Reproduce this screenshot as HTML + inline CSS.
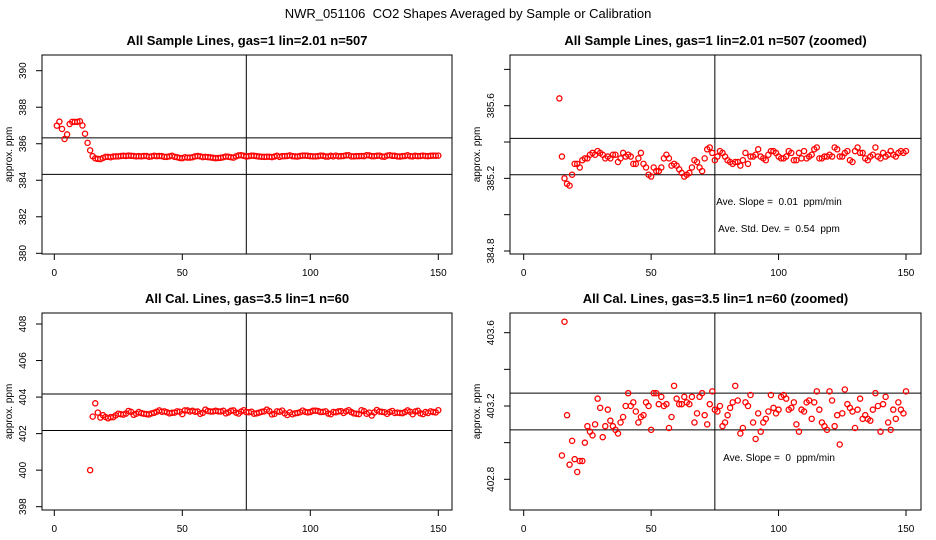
<!DOCTYPE html>
<html><head><meta charset="utf-8"><style>
html,body{margin:0;padding:0;background:#fff;width:936px;height:540px;overflow:hidden;}
svg{display:block;font-family:"Liberation Sans",sans-serif;}
svg text{white-space:pre;}
</style></head><body>
<svg id="c" width="936" height="540" viewBox="0 0 936 540">
<text x="468" y="18" text-anchor="middle" font-size="13">NWR_051106  CO2 Shapes Averaged by Sample or Calibration</text>
</svg>
<script>
const sampleX = [];
for (let i = 1; i <= 150; i++) sampleX.push(i);
const sampleValues = [386.99,387.21,386.81,386.26,386.51,387.08,387.2,387.2,387.2,387.23,387.0,386.55,386.05,
385.64,385.32,385.20,385.17,385.16,385.22,385.28,385.28,385.26,385.30,385.31,385.31,385.33,385.34,385.33,385.35,
385.34,385.33,385.31,385.32,385.31,385.33,385.33,385.29,385.31,385.34,385.32,385.33,385.32,385.28,385.28,385.31,
385.34,385.28,385.26,385.22,385.21,385.26,385.24,385.24,385.26,385.31,385.33,385.31,385.27,385.28,385.27,385.25,
385.23,385.21,385.22,385.23,385.26,385.30,385.29,385.26,385.24,385.31,385.36,385.37,385.34,385.30,385.32,385.35,
385.34,385.32,385.30,385.29,385.28,385.29,385.29,385.27,385.30,385.34,385.28,385.32,385.32,385.33,385.36,385.32,
385.31,385.30,385.33,385.35,385.35,385.34,385.32,385.31,385.31,385.32,385.35,385.34,385.30,385.30,385.34,385.31,
385.35,385.31,385.32,385.33,385.36,385.37,385.31,385.31,385.32,385.32,385.33,385.32,385.37,385.36,385.32,385.32,
385.34,385.35,385.30,385.29,385.35,385.37,385.34,385.34,385.31,385.30,385.32,385.33,385.37,385.32,385.31,385.34,
385.32,385.33,385.35,385.33,385.32,385.34,385.35,385.34,385.35];
const calX = [];
for (let i = 14; i <= 150; i++) calX.push(i);
const calValues = [400.0,402.93,403.66,403.15,402.88,403.01,402.91,402.84,402.90,402.90,403.0,403.09,403.06,403.04,
403.10,403.24,403.19,403.03,403.09,403.18,403.12,403.09,403.07,403.05,403.11,403.14,403.20,403.27,403.20,403.22,
403.17,403.11,403.14,403.15,403.22,403.20,403.07,403.27,403.27,403.21,403.25,403.20,403.21,403.08,403.14,403.31,
403.24,403.21,403.21,403.25,403.22,403.21,403.25,403.11,403.16,403.25,403.27,403.15,403.10,403.21,403.28,403.18,
403.17,403.20,403.09,403.11,403.15,403.19,403.22,403.31,403.23,403.05,403.08,403.22,403.20,403.26,403.11,403.02,
403.16,403.06,403.11,403.13,403.17,403.26,403.19,403.16,403.18,403.25,403.26,403.24,403.18,403.19,403.22,403.10,
403.06,403.18,403.17,403.22,403.23,403.13,403.22,403.28,403.18,403.11,403.09,403.07,403.28,403.23,403.09,403.15,
402.99,403.16,403.29,403.21,403.19,403.17,403.08,403.18,403.24,403.13,403.15,403.13,403.12,403.18,403.27,403.20,
403.06,403.21,403.25,403.11,403.07,403.18,403.13,403.22,403.18,403.16,403.28];
const xTicks = [0, 50, 100, 150];
const tlTicks = [380, 382, 384, 386, 388, 390];
const trTicks = [384.8, 385.0, 385.2, 385.4, 385.6, 385.8];
const trLabels = ["384.8", "", "385.2", "", "385.6", ""];
const blTicks = [398, 400, 402, 404, 406, 408];
const brTicks = [402.8, 403.0, 403.2, 403.4, 403.6];
const brLabels = ["402.8", "", "403.2", "", "403.6"];
const sampleMean = 385.32, calMean = 403.17;

const NS = "http://www.w3.org/2000/svg";
const svg = document.getElementById('c');
function mk(tag, attrs, parent) {
  const e = document.createElementNS(NS, tag);
  for (const k in attrs) e.setAttribute(k, attrs[k]);
  (parent || svg).appendChild(e);
  return e;
}
function panel(cfg) {
  const g = mk('g', {});
  
  
  const L = cfg.box[0], R = cfg.box[1], T = cfg.box[2], B = cfg.box[3];
  const xs = v => cfg.x0 + (v - 0) * (cfg.x150 - cfg.x0) / 150;
  const ys = v => cfg.yp0 + (v - cfg.yv0) * (cfg.yp1 - cfg.yp0) / (cfg.yv1 - cfg.yv0);
  const t = mk('text', {x: (L + R) / 2, y: T - 10, 'text-anchor': 'middle', 'font-size': 13, 'font-weight': 'bold'}, g);
  t.textContent = cfg.title;
  
  
  const clip = mk('clipPath', {id: cfg.name + '-clip'}, g);
  mk('rect', {x: L, y: T, width: R - L, height: B - T}, clip);
  const box = mk('rect', {x: L, y: T, width: R - L, height: B - T, fill: 'none', stroke: '#000', 'stroke-width': 1}, g);
  
  
  [cfg.mean - cfg.band, cfg.mean + cfg.band].forEach(v => {
    const l = mk('line', {x1: L, x2: R, y1: ys(v), y2: ys(v), stroke: '#000', 'stroke-width': 1}, g);
    
    
  });
  const vl = mk('line', {x1: xs(75), x2: xs(75), y1: T, y2: B, stroke: '#000', 'stroke-width': 1}, g);
  
  
  xTicks.forEach(v => {
    mk('line', {x1: xs(v), x2: xs(v), y1: B, y2: B + 6, stroke: '#000'}, g);
    const tx = mk('text', {x: xs(v), y: B + 22, 'text-anchor': 'middle', 'font-size': 10}, g);
    tx.textContent = v;
    
    
  });
  cfg.yTicks.forEach((v, i) => {
    mk('line', {x1: L - 6, x2: L, y1: ys(v), y2: ys(v), stroke: '#000'}, g);
    const lab = cfg.yLabels ? cfg.yLabels[i] : String(v);
    if (lab) {
      const tx = mk('text', {x: 0, y: 0, 'text-anchor': 'middle', 'font-size': 10, transform: `translate(${L - 16},${ys(v)}) rotate(-90)`}, g);
      tx.textContent = lab;
      
      
    }
  });
  const yt = mk('text', {x: 0, y: 0, 'text-anchor': 'middle', 'font-size': 10, transform: `translate(${L - 30},${(T + B) / 2}) rotate(-90)`}, g);
  yt.textContent = 'approx. ppm';
  
  
  const pg = mk('g', {'clip-path': `url(#${cfg.name}-clip)`}, g);
  
  
  cfg.xs.forEach((xv, i) => {
    const c = mk('circle', {cx: xs(xv), cy: ys(cfg.vals[i]), r: 2.6, fill: 'none', stroke: '#f00', 'stroke-width': 1.3}, pg);
    
    
  });
  (cfg.notes || []).forEach(n => {
    const tx = mk('text', {x: n[0], y: n[1], 'text-anchor': 'middle', 'font-size': 10}, g);
    tx.textContent = n[2];
    
    
  });
}
panel({name: 'panel-sample', title: 'All Sample Lines, gas=1 lin=2.01 n=507', box: [42, 452, 55, 254],
  x0: 54.3, x150: 438.3, yv0: 380, yp0: 253.3, yv1: 390, yp1: 70.7, yTicks: tlTicks,
  mean: sampleMean, band: 1, xs: sampleX, vals: sampleValues});
panel({name: 'panel-sample-zoomed', title: 'All Sample Lines, gas=1 lin=2.01 n=507 (zoomed)', box: [510, 921, 55, 254],
  x0: 523.7, x150: 906, yv0: 384.8, yp0: 251, yv1: 385.6, yp1: 105.7, yTicks: trTicks, yLabels: trLabels,
  mean: sampleMean, band: 0.1, xs: sampleX, vals: sampleValues,
  notes: [[779, 205, 'Ave. Slope =  0.01  ppm/min'], [779, 232, 'Ave. Std. Dev. =  0.54  ppm']]});
panel({name: 'panel-cal', title: 'All Cal. Lines, gas=3.5 lin=1 n=60', box: [42, 452, 313, 510],
  x0: 54.3, x150: 438.3, yv0: 398, yp0: 506.7, yv1: 408, yp1: 324, yTicks: blTicks,
  mean: calMean, band: 1, xs: calX, vals: calValues});
panel({name: 'panel-cal-zoomed', title: 'All Cal. Lines, gas=3.5 lin=1 n=60 (zoomed)', box: [510, 921, 313, 510],
  x0: 523.7, x150: 906, yv0: 402.8, yp0: 479.3, yv1: 403.6, yp1: 332.7, yTicks: brTicks, yLabels: brLabels,
  mean: calMean, band: 0.1, xs: calX, vals: calValues,
  notes: [[779, 461, 'Ave. Slope =  0  ppm/min']]});
</script>
</body></html>
